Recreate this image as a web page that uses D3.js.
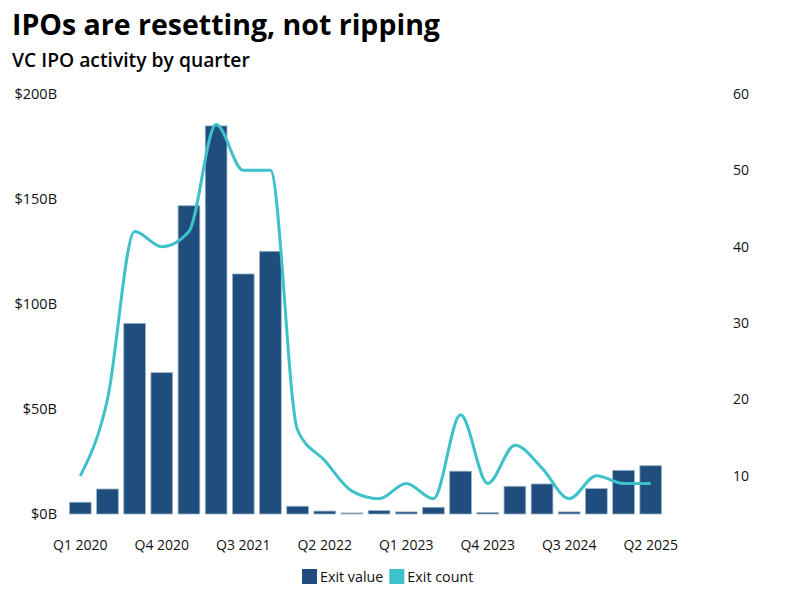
<!DOCTYPE html>
<html>
<head>
<meta charset="utf-8">
<script src="https://cdn.jsdelivr.net/npm/d3@7"></script>
<style>
  body { margin: 0; background: #fff; }
  svg text { font-family: "Open Sans", "Noto Sans", sans-serif; }
</style>
</head>
<body>
<div id="vis"></div>
<script>
var width = 787, height = 595

// data
var quarters = ['Q1 2020','Q2 2020','Q3 2020','Q4 2020','Q1 2021','Q2 2021','Q3 2021','Q4 2021',
  'Q1 2022','Q2 2022','Q3 2022','Q4 2022','Q1 2023','Q2 2023','Q3 2023','Q4 2023',
  'Q1 2024','Q2 2024','Q3 2024','Q4 2024','Q1 2025','Q2 2025']
var exitValue = [5.6, 11.9, 90.8, 67.3, 146.8, 184.8, 114.3, 125.1,
  3.7, 1.4, 0.5, 1.6, 1.0, 3.2, 20.4, 0.7,
  13.2, 14.3, 1.0, 12.1, 20.8, 23.0]
var exitCount = [10, 20, 42, 40, 42, 56, 50, 50,
  16, 12, 8, 7, 9, 7, 18, 9,
  14, 11, 7, 10, 9, 9]
var leftTicks = [0, 50, 100, 150, 200]
var rightTicks = [10, 20, 30, 40, 50, 60]
var tickQuarters = ['Q1 2020','Q4 2020','Q3 2021','Q2 2022','Q1 2023','Q4 2023','Q3 2024','Q2 2025']

var barColor = '#1f4e7e', lineColor = '#3ec1c9'
var plotTop = 94, plotBottom = 514

var svg = d3.select('#vis').append('svg')
  .attr('width', width).attr('height', height)

svg.append('text').attr('x', 12).attr('y', 35)
  .attr('font-size', 28.5).attr('font-weight', 700).attr('fill', '#000')
  .text('IPOs are resetting, not ripping')
svg.append('text').attr('x', 12).attr('y', 67)
  .attr('font-size', 19.3).attr('font-weight', 600).attr('fill', '#000')
  .text('VC IPO activity by quarter')

var x = d3.scaleBand().domain(quarters).range([64, 667]).padding(0.2)
var yL = d3.scaleLinear().domain([0, 200]).range([plotBottom, plotTop])
var yR = d3.scaleLinear().domain([5, 60]).range([plotBottom, plotTop])

var g = svg.append('g')

// left axis
var axL = g.append('g').attr('transform', 'translate(57,0)')
  .call(d3.axisLeft(yL).tickValues(leftTicks).tickSize(0).tickPadding(0).tickFormat(d => '$' + d + 'B'))
axL.select('.domain').remove()
axL.selectAll('text').attr('font-size', 14.5).attr('fill', '#111')
  .style('font-family', '"Open Sans", sans-serif')

// right axis
var axR = g.append('g').attr('transform', 'translate(733,0)')
  .call(d3.axisRight(yR).tickValues(rightTicks).tickSize(0).tickPadding(0))
axR.select('.domain').remove()
axR.selectAll('text').attr('font-size', 14).attr('fill', '#111')
  .style('font-family', '"Open Sans", sans-serif')

// bars
g.selectAll('.bar').data(exitValue).enter().append('rect')
  .attr('class', 'bar')
  .attr('x', (d, i) => x(quarters[i]))
  .attr('width', x.bandwidth())
  .attr('y', d => yL(d))
  .attr('height', d => yL(0) - yL(d))
  .attr('fill', barColor)
  .attr('stroke', '#9fb3c8').attr('stroke-width', 0.8)

// line
var line = d3.line()
  .x((d, i) => x(quarters[i]) + x.bandwidth() / 2)
  .y(d => yR(d))
  .curve(d3.curveMonotoneX)
g.append('path').datum(exitCount)
  .attr('d', line)
  .attr('fill', 'none')
  .attr('stroke', lineColor)
  .attr('stroke-width', 3)

// x axis labels
var axX = g.append('g').attr('transform', 'translate(0,' + plotBottom + ')')
  .call(d3.axisBottom(x).tickValues(tickQuarters).tickSize(0).tickPadding(26))
axX.select('.domain').remove()
axX.selectAll('text').attr('font-size', 14).attr('fill', '#111')
  .style('font-family', '"Open Sans", sans-serif')

// legend
var legend = svg.append('g').attr('transform', 'translate(302,569)')
var items = [{ label: 'Exit value', color: barColor }, { label: 'Exit count', color: lineColor }]
var lx = 0
items.forEach(it => {
  legend.append('rect').attr('x', lx).attr('y', 0).attr('width', 15).attr('height', 15).attr('fill', it.color)
  var t = legend.append('text').attr('x', lx + 18).attr('y', 13)
    .attr('font-size', 14.3).attr('fill', '#111').text(it.label)
  lx += 18 + t.node().getComputedTextLength() + 6
})
</script>
</body>
</html>
